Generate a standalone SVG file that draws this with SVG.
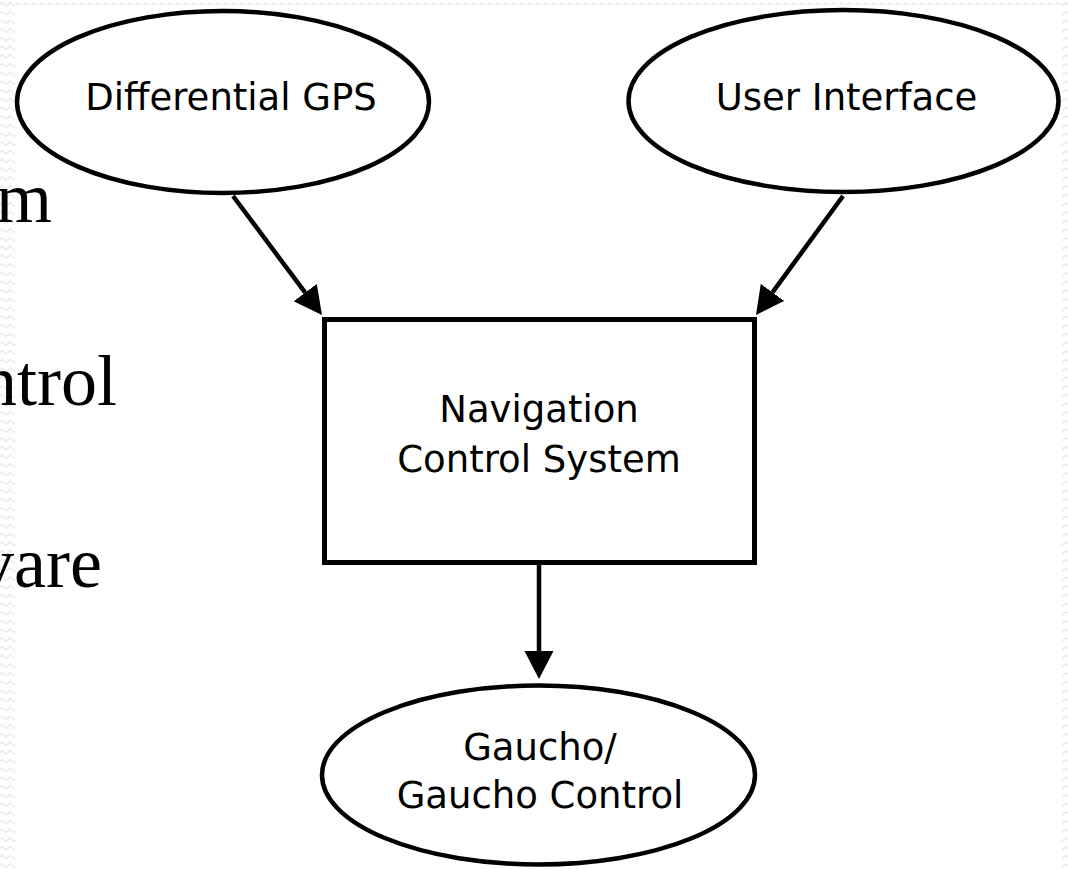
<svg xmlns="http://www.w3.org/2000/svg" width="1068" height="869" viewBox="0 0 1068 869">
  <style>
    .node { fill: #ffffff; stroke: #000000; stroke-width: 4.5; }
    .box { fill: #ffffff; stroke: #000000; stroke-width: 5; }
    .label { font-family: "DejaVu Sans", "Bitstream Vera Sans", sans-serif; font-size: 37px; fill: #000000; text-anchor: middle; }
    .slide { font-family: "Liberation Serif", "Times New Roman", serif; font-size: 72px; fill: #000000; text-anchor: end; }
    .edge { fill: none; stroke: #000000; stroke-width: 4.5; marker-end: url(#head); }
  </style>
  <defs>
    <marker id="head" viewBox="0 -15 28 30" markerWidth="28" markerHeight="30" refX="0" refY="0" markerUnits="userSpaceOnUse" orient="auto">
      <path d="M0,-14.5 L28,0 L0,14.5 Z" fill="#000000"/>
    </marker>
    <!-- faint wavy texture along the page borders -->
    <pattern id="wave" width="8" height="8.7" patternUnits="userSpaceOnUse">
      <path d="M0,5 Q2,1 4,4.3 T8,4" fill="none" stroke="#e6e6e6" stroke-width="1.2"/>
    </pattern>
  </defs>

  <rect x="0" y="0" width="1068" height="869" fill="#ffffff"/>
  <rect x="0" y="0" width="15" height="869" fill="url(#wave)"/>
  <rect x="0" y="0" width="1068" height="5" fill="url(#wave)"/>
  <rect x="1062" y="0" width="6" height="869" fill="url(#wave)"/>

  <!-- slide text running under the diagram -->
  <g id="slide-text">
    <text class="slide" x="52" y="222">m</text>
    <text class="slide" x="117" y="405">ntrol</text>
    <text class="slide" x="102" y="587">vare</text>
  </g>

  <g id="connectors">
    <path class="edge" d="M233,196 L305.2,292.6"/>
    <path class="edge" d="M843,196 L772.5,292.4"/>
    <path class="edge" d="M539,565 L539,651"/>
  </g>

  <g id="differential-gps">
    <ellipse class="node" cx="223" cy="102" rx="206" ry="91"/>
    <text class="label" x="231" y="110">Differential GPS</text>
  </g>

  <g id="user-interface">
    <ellipse class="node" cx="843.5" cy="101" rx="215" ry="91"/>
    <text class="label" x="846.5" y="110">User Interface</text>
  </g>

  <g id="navigation-control-system">
    <rect class="box" x="324.5" y="319.5" width="430" height="243"/>
    <text class="label" x="539" y="422">Navigation</text>
    <text class="label" x="539" y="472">Control System</text>
  </g>

  <g id="gaucho-control">
    <ellipse class="node" cx="538.5" cy="775" rx="216.5" ry="89.5"/>
    <text class="label" x="540" y="760">Gaucho/</text>
    <text class="label" x="540" y="808">Gaucho Control</text>
  </g>
</svg>
